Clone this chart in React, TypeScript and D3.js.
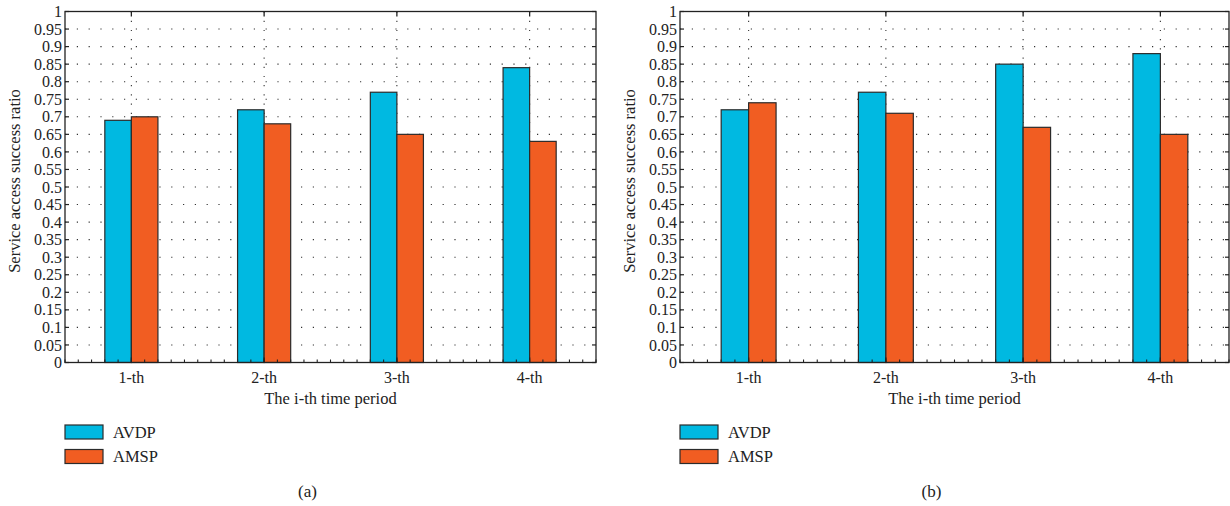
import React from "react";
import * as d3 from "d3";

const categories = ["1-th", "2-th", "3-th", "4-th"];
const seriesNames = ["AVDP", "AMSP"];
const avdpA = [0.69, 0.72, 0.77, 0.84];
const amspA = [0.7, 0.68, 0.65, 0.63];
const avdpB = [0.72, 0.77, 0.85, 0.88];
const amspB = [0.74, 0.71, 0.67, 0.65];
const yTicks = d3.range(0, 21).map((i) => +(i * 0.05).toFixed(2));
const panelLabels = ["(a)", "(b)"];

const COLORS = ["#00B9E1", "#F15D22"];
const FONT = "'Liberation Serif', 'Times New Roman', serif";

type PanelProps = {
  left: number;
  right: number;
  avdp: number[];
  amsp: number[];
  label: string;
  ylabelX: number;
};

function Panel({ left, right, avdp, amsp, label, ylabelX }: PanelProps) {
  const top = 11.5;
  const bottom = 362.5;
  const x = d3.scaleLinear().domain([0.5, categories.length + 0.5]).range([left, right]);
  const y = d3.scaleLinear().domain([0, 1]).range([bottom, top]);
  const bw = x(0.7) - x(0.5);
  const minor = d3.range(0.5, categories.length + 0.5001, 0.1);
  const series = [avdp, amsp];
  const legendX = left;
  return (
    <g fontFamily={FONT} fill="#222">
      {yTicks.slice(1, -1).map((t) => (
        <line key={"h" + t} x1={left} x2={right} y1={y(t)} y2={y(t)} stroke="#333" strokeWidth={1.1} strokeDasharray="1.2,10.6" />
      ))}
      {categories.map((c, i) => (
        <line key={"v" + c} x1={x(i + 1)} x2={x(i + 1)} y1={top} y2={bottom} stroke="#333" strokeWidth={1.1} strokeDasharray="1.2,8" />
      ))}
      {series.map((vals, s) =>
        vals.map((v, i) => (
          <rect
            key={"b" + s + "-" + i}
            x={x(i + 1) + (s === 0 ? -bw : 0)}
            y={y(v)}
            width={bw}
            height={bottom - y(v)}
            fill={COLORS[s]}
            stroke="#2b2b2b"
            strokeWidth={1.2}
          />
        ))
      )}
      <rect x={left} y={top} width={right - left} height={bottom - top} fill="none" stroke="#222" strokeWidth={1.3} />
      {yTicks.map((t) => (
        <g key={"yt" + t}>
          <line x1={left} x2={left + 4} y1={y(t)} y2={y(t)} stroke="#222" strokeWidth={1.2} />
          <line x1={right - 4} x2={right} y1={y(t)} y2={y(t)} stroke="#222" strokeWidth={1.2} />
          <text x={left - 3} y={y(t)} dy="0.35em" textAnchor="end" fontSize={16}>
            {String(t)}
          </text>
        </g>
      ))}
      {minor.map((m, k) => (
        <line key={"m" + k} x1={x(m)} x2={x(m)} y1={bottom} y2={bottom - 3} stroke="#222" strokeWidth={1.1} />
      ))}
      {categories.map((c, i) => (
        <g key={"xt" + c}>
          <line x1={x(i + 1)} x2={x(i + 1)} y1={top} y2={top + 5} stroke="#222" strokeWidth={1.3} />
          <line x1={x(i + 1)} x2={x(i + 1)} y1={bottom} y2={bottom - 5} stroke="#222" strokeWidth={1.3} />
          <text x={x(i + 1)} y={382.5} textAnchor="middle" fontSize={16}>
            {c}
          </text>
        </g>
      ))}
      <text x={(left + right) / 2} y={404} textAnchor="middle" fontSize={16.5}>
        The i-th time period
      </text>
      <text
        transform={`translate(${ylabelX},${(top + bottom) / 2 - 6}) rotate(-90)`}
        textAnchor="middle"
        fontSize={16.5}
        dy="0.35em"
      >
        Service access success ratio
      </text>
      {seriesNames.map((n, s) => (
        <g key={"lg" + n}>
          <rect x={legendX} y={425 + s * 24.5} width={38} height={14} fill={COLORS[s]} stroke="#2b2b2b" strokeWidth={1.2} />
          <text x={legendX + 48} y={437.5 + s * 24.5} fontSize={16.5}>
            {n}
          </text>
        </g>
      ))}
      <text x={(left + right) / 2 - 23} y={497} textAnchor="middle" fontSize={17}>
        {label}
      </text>
    </g>
  );
}

export default function App() {
  return (
    <svg width={1230} height={506} style={{ position: "absolute", left: 0, top: 0, background: "#fff" }}>
      <rect width={1230} height={506} fill="#fff" />
      <Panel left={65} right={596} avdp={avdpA} amsp={amspA} label={panelLabels[0]} ylabelX={14} />
      <Panel left={680} right={1229} avdp={avdpB} amsp={amspB} label={panelLabels[1]} ylabelX={629} />
    </svg>
  );
}
